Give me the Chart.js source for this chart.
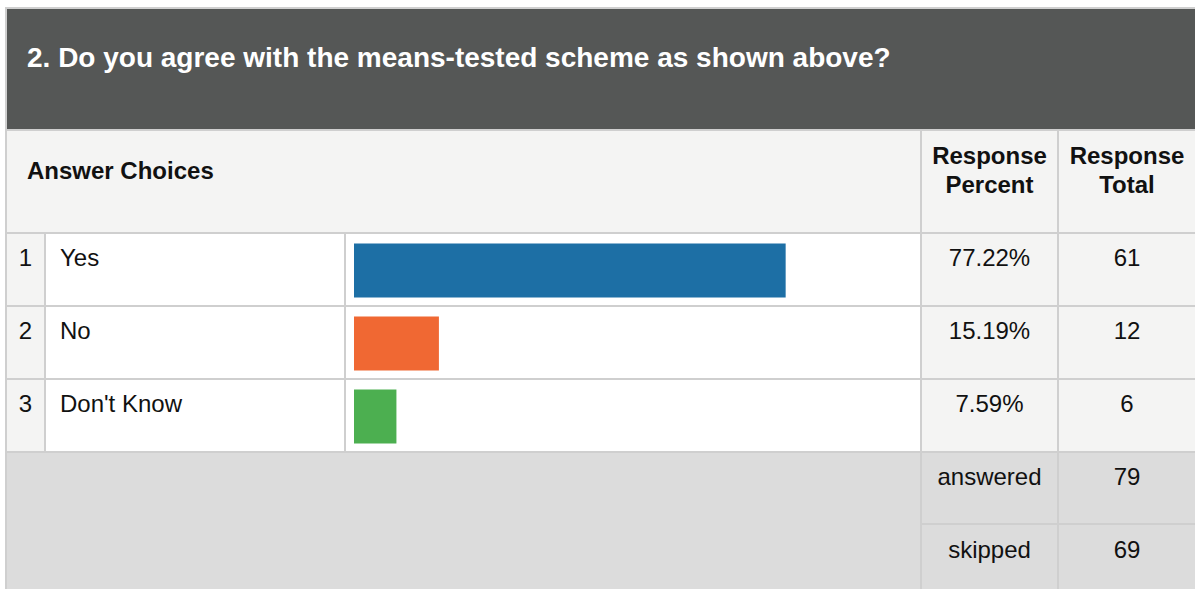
<!DOCTYPE html>
<html>
<head>
<meta charset="utf-8">
<script src="https://cdn.jsdelivr.net/npm/chart.js@4"></script>
<style>
  html, body { margin: 0; padding: 0; background: #fff; }
  #wrap { position: relative; width: 1195px; height: 589px; overflow: hidden; background: #fff;
          font-family: Arial, "Liberation Sans", Helvetica, sans-serif; color: #111; }
  .box { position: absolute; }
  .txt { position: absolute; white-space: nowrap; }
  #bars { position: absolute; left: 346px; top: 234px; }
</style>
</head>
<body>
<div id="wrap">
  <canvas id="bars" width="573" height="219"></canvas>
</div>
<script>
const title = '2. Do you agree with the means-tested scheme as shown above?';
const choices = ['Yes', 'No', "Don't Know"];
const percents = [77.22, 15.19, 7.59];
const totals = [61, 12, 6];
const barColors = ['#1d6fa5', '#f06833', '#4caf50'];
const answered = 79;
const skipped = 69;

const wrap = document.getElementById('wrap');
const canvas = document.getElementById('bars');

function box(x, y, w, h, bg) {
  const d = document.createElement('div');
  d.className = 'box';
  d.style.cssText = `left:${x}px;top:${y}px;width:${w}px;height:${h}px;background:${bg}`;
  wrap.insertBefore(d, canvas);
}

// place text by its baseline (Liberation Sans metrics)
function text(str, x, base, size, opts = {}) {
  const d = document.createElement('div');
  d.className = 'txt';
  d.textContent = str;
  const top = base - 0.8465 * size;
  let css = `top:${top}px;font-size:${size}px;line-height:${size}px;`;
  if (opts.bold) css += 'font-weight:bold;';
  if (opts.color) css += `color:${opts.color};`;
  if (opts.width) css += `left:${x}px;width:${opts.width}px;text-align:center;`;
  else css += `left:${x}px;`;
  d.style.cssText = css;
  wrap.appendChild(d);
}

// grid lines show through from the frame behind the cells
box(5, 7, 1190, 582, '#cfcfcf');
box(7, 9, 1188, 120, '#555756');
box(7, 131, 913, 101, '#f4f4f3');
box(922, 131, 135, 101, '#f4f4f3');
box(1059, 131, 136, 101, '#f4f4f3');

const rowTop = [234, 307, 380];
choices.forEach((c, i) => {
  const y = rowTop[i];
  box(7, y, 37, 71, '#f4f4f3');
  box(46, y, 298, 71, '#fff');
  box(346, y, 574, 71, '#fff');
  box(922, y, 135, 71, '#f4f4f3');
  box(1059, y, 136, 71, '#f4f4f3');
});

box(7, 453, 913, 136, '#dcdcdc');
box(922, 453, 135, 70, '#dcdcdc');
box(1059, 453, 136, 70, '#dcdcdc');
box(922, 525, 135, 64, '#dcdcdc');
box(1059, 525, 136, 64, '#dcdcdc');

text(title, 27, 68, 28, { bold: true, color: '#fff' });
text('Answer Choices', 27, 179, 24, { bold: true });
text('Response', 922, 164, 24, { bold: true, width: 135 });
text('Percent', 922, 193, 24, { bold: true, width: 135 });
text('Response', 1059, 164, 24, { bold: true, width: 136 });
text('Total', 1059, 193, 24, { bold: true, width: 136 });

choices.forEach((c, i) => {
  const base = 266 + i * 73;
  text(String(i + 1), 7, base, 24, { width: 37 });
  text(c, 60, base, 24);
  text(percents[i].toFixed(2) + '%', 922, base, 24, { width: 135 });
  text(String(totals[i]), 1059, base, 24, { width: 136 });
});

text('answered', 922, 485, 24, { width: 135 });
text(String(answered), 1059, 485, 24, { width: 136 });
text('skipped', 922, 558, 24, { width: 135 });
text(String(skipped), 1059, 558, 24, { width: 136 });

new Chart(canvas, {
  type: 'bar',
  data: {
    labels: choices,
    datasets: [{
      data: percents,
      backgroundColor: barColors,
      borderWidth: 0,
      categoryPercentage: 1,
      barPercentage: 0.74
    }]
  },
  options: {
    indexAxis: 'y',
    responsive: false,
    devicePixelRatio: 1,
    animation: false,
    layout: { padding: { left: 8, right: 6, top: 0, bottom: 0 } },
    scales: {
      x: { min: 0, max: 100, display: false },
      y: { display: false }
    },
    plugins: { legend: { display: false }, tooltip: { enabled: false } }
  }
});
</script>
</body>
</html>
